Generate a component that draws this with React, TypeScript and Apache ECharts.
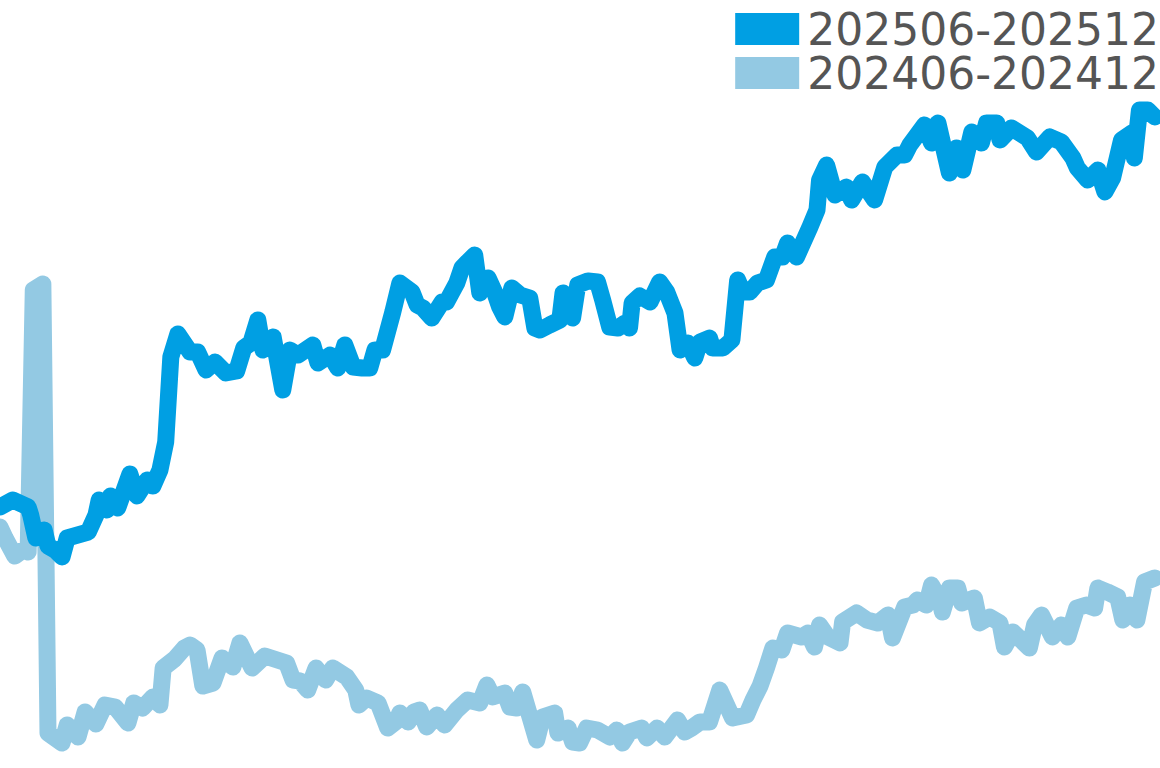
import React, { useEffect, useRef } from "react";
import * as echarts from "echarts";

// day offset within the 6-month window, and index level
const currentDays = [
  0, 2.0, 4.4, 4.8, 5.6, 6.9, 7.5, 8.6, 9.7, 10.5, 13.8, 15.0, 15.5, 16.7, 17.3, 18.4, 20.3, 21.4, 23.0, 23.9,
  25.0, 25.9, 26.7, 27.8, 29.7, 30.9, 32.2, 33.6, 35.3, 37.0, 38.1, 39.2, 40.3, 41.1, 42.7, 44.2, 45.3, 46.6,
  48.9, 49.7, 51.6, 52.8, 53.9, 55.2, 56.6, 57.8, 58.6, 59.8, 61.4, 62.5, 64.4, 65.2, 66.1, 67.5, 69.1, 69.8,
  71.4, 72.2, 73.1, 74.2, 75.0, 76.3, 77.3, 78.1, 78.9, 80.0, 81.3, 82.8, 83.6, 84.4, 85.9, 87.5, 88.0, 89.5,
  90.3, 91.9, 93.4, 94.2, 95.3, 96.6, 97.7, 98.4, 98.8, 100.0, 101.6, 103.1, 104.2, 105.5, 106.3, 107.5, 108.6,
  109.4, 110.9, 111.4, 113.0, 114.4, 115.3, 116.1, 117.2, 118.4, 119.8, 121.1, 122.3, 123.1, 124.5, 126.6,
  127.7, 128.1, 129.2, 130.5, 132.3, 133.1, 134.8, 136.7, 138.3, 140.2, 141.4, 142.2, 144.5, 145.6, 146.6,
  148.4, 149.5, 150.5, 151.9, 153.4, 154.2, 155.8, 156.3, 158.1, 160.6, 162.0, 164.1, 165.9, 167.7, 168.4,
  170.0, 171.6, 172.7, 173.9, 175.3, 176.9, 177.3, 178.1, 179.4, 180.5,
];
const currentValues = [
  261, 268, 261, 253, 230, 238, 222, 218, 211, 230, 236, 253, 268, 258, 272, 260, 294, 272, 288, 282,
  298, 326, 411, 434, 416, 416, 398, 406, 395, 397, 420, 425, 448, 418, 431, 378, 418, 413,
  423, 405, 413, 400, 423, 401, 400, 400, 418, 418, 456, 485, 476, 463, 460, 450, 466, 466,
  485, 500, 506, 513, 475, 490, 476, 461, 451, 480, 473, 470, 440, 438, 443, 448, 475, 450,
  483, 487, 486, 468, 441, 440, 445, 440, 465, 472, 466, 486, 476, 455, 418, 425, 410,
  426, 430, 420, 420, 428, 488, 476, 476, 485, 488, 511, 511, 525, 511, 541,
  558, 588, 603, 573, 581, 568, 586, 568, 601, 613, 613, 623, 643, 625, 645,
  595, 620, 598, 636, 625, 645, 645, 628, 640, 630, 616, 631, 626, 610, 600,
  588, 598, 576, 590, 628, 635, 610, 658, 658, 651,
];

const previousDays = [
  0, 0.8, 2.3, 3.6, 4.4, 5.2, 6.7, 7.5, 9.7, 10.5, 12.2, 13.3, 15.0, 16.4, 18.0, 20.0, 20.9, 22.3, 23.9, 25.0,
  25.5, 27.3, 28.8, 29.7, 30.8, 31.7, 33.3, 34.7, 36.4, 37.5, 39.4, 41.4, 44.8, 45.8, 46.9, 48.1, 49.4, 50.9,
  52.0, 54.2, 55.6, 56.1, 57.3, 59.1, 60.6, 62.0, 62.5, 63.8, 64.7, 65.6, 66.7, 68.3, 69.5, 71.4, 73.1, 75.0,
  76.1, 77.0, 78.9, 79.7, 80.8, 81.7, 83.9, 84.8, 86.7, 87.2, 88.8, 89.5, 90.6, 91.7, 93.4, 95.3, 96.4, 97.3,
  98.4, 100.3, 101.1, 102.7, 103.9, 105.9, 107.0, 108.1, 109.4, 110.9, 112.5, 114.5, 116.7, 117.7, 118.8,
  119.8, 120.8, 122.2, 123.1, 125.3, 126.3, 127.3, 128.1, 129.4, 131.3, 131.7, 133.9, 135.5, 137.2, 138.8,
  139.5, 141.4, 142.7, 143.4, 144.8, 145.6, 146.9, 147.3, 148.4, 149.7, 150.3, 152.3, 153.1, 154.7, 156.3,
  157.0, 158.3, 160.9, 161.7, 162.8, 164.5, 165.9, 166.9, 168.3, 169.8, 171.1, 171.6, 173.1, 174.7, 175.5,
  176.6, 177.7, 178.9, 180.5,
];
const previousValues = [
  241, 230, 212, 218, 216, 478, 484, 35, 25, 43, 31, 56, 44, 63, 61, 45, 65, 60, 71, 63,
  100, 109, 120, 123, 118, 82, 85, 110, 101, 125, 100, 112, 105, 88, 87, 78, 100, 88,
  100, 91, 78, 63, 70, 65, 40, 47, 55, 46, 56, 58, 41, 53, 43, 58, 68, 65,
  83, 71, 75, 61, 60, 76, 28, 51, 55, 35, 40, 26, 25, 40, 38, 31, 38, 25,
  36, 40, 30, 40, 31, 48, 36, 40, 46, 46, 78, 50, 53, 68, 82,
  100, 120, 118, 135, 131, 135, 121, 143, 131, 125, 146, 155, 148, 145, 153,
  130, 161, 163, 168, 163, 183, 168, 156, 180, 180, 165, 170, 145, 151, 145,
  121, 136, 120, 143, 153, 131, 143, 131, 160, 163, 160, 180, 176, 171, 148,
  163, 148, 186, 190,
];

const seriesNames = ["202506-202512", "202406-202412"];
const seriesColors = ["#009fe3", "#93c9e3"];

const pairs = (xs: number[], ys: number[]) => xs.map((x, i) => [x, ys[i]]);

const App: React.FC = () => {
  const chartRef = useRef<HTMLDivElement>(null);

  useEffect(() => {
    const chart = echarts.init(chartRef.current!, null, { renderer: "svg" });

    const lineStyle = (color: string) => ({
      color,
      width: 17,
      cap: "round" as const,
      join: "round" as const,
    });

    chart.setOption({
      animation: false,
      textStyle: { fontFamily: "DejaVu Sans" },
      legend: {
        data: seriesNames,
        orient: "vertical",
        right: -4,
        top: 2,
        itemGap: 0,
        itemWidth: 64,
        itemHeight: 32,
        icon: "rect",
        textStyle: {
          fontSize: 44,
          lineHeight: 44,
          color: "#555555",
          fontFamily: "DejaVu Sans",
          padding: [0, 0, 0, 3],
        },
      },
      grid: { left: 0, right: 2, top: 0, bottom: 0 },
      xAxis: { type: "value", min: 0, max: 181, show: false },
      yAxis: { type: "value", min: 0, max: 768, show: false },
      series: [
        {
          name: seriesNames[1],
          type: "line",
          showSymbol: false,
          color: seriesColors[1],
          lineStyle: lineStyle(seriesColors[1]),
          data: pairs(previousDays, previousValues),
        },
        {
          name: seriesNames[0],
          type: "line",
          showSymbol: false,
          color: seriesColors[0],
          lineStyle: lineStyle(seriesColors[0]),
          data: pairs(currentDays, currentValues),
        },
      ],
    });

    return () => {
      chart.dispose();
    };
  }, []);

  return (
    <div
      ref={chartRef}
      style={{ position: "fixed", left: 0, top: 0, width: "1160px", height: "768px", background: "#fff" }}
    ></div>
  );
};

export default App;
